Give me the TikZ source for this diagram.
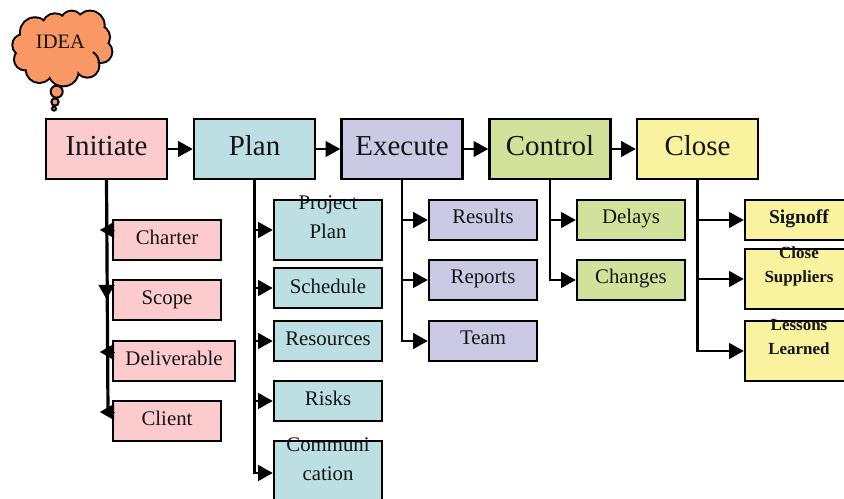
\documentclass[tikz,border=0pt]{standalone}
\usepackage{fontspec}
\setmainfont{Liberation Serif}
\usetikzlibrary{arrows.meta}
\definecolor{cpink}{HTML}{FBCBCE}
\definecolor{cteal}{HTML}{BBDFE3}
\definecolor{cpurple}{HTML}{CCC9E5}
\definecolor{cgreen}{HTML}{D2E29B}
\definecolor{cyellow}{HTML}{F9F29E}
\definecolor{corange}{HTML}{F99865}
\tikzset{
  bx/.style={draw=black,line width=1.7pt,inner sep=0pt,align=center,text=black!92,text depth=0pt},
  bw/.style={minimum width=#1*0.75pt},
  bh/.style={minimum height=#1*0.75pt},
  tb/.style={text height=#1pt},
  mainbox/.style={bx,bw=121,bh=60,tb=9.8,font=\fontsize{21.7}{26}\selectfont},
  subbox/.style={bx,bw=108,bh=40,tb=7.5,font=\fontsize{15.6}{21.5}\selectfont},
  closebox/.style={bx,bw=108,bh=60,tb=6,font=\bfseries\fontsize{12.75}{18}\selectfont},
  conn/.style={line width=2.2pt,-{Triangle[length=11pt,width=11.5pt]}},
  flow/.style={line width=2pt,-{Triangle[length=11pt,width=11.5pt]}},
  tiponly/.style={line width=0.1pt,-{Triangle[length=10.5pt,width=12pt]}},
  puff/.style={line width=3pt,draw=black},
  puffin/.style={fill=corange},
}
\begin{document}
\begin{tikzpicture}[x=0.75pt,y=-0.75pt]
\path[use as bounding box,clip] (0,0) rectangle (844,499);
% idea cloud (coordinates read at 3x)
\begin{scope}[x=0.25pt,y=-0.25pt]
  \def\lobes{(105,97) circle (42) (165,78) circle (35) (215,66) circle (31) (270,76) circle (41)
    (293,112) circle (34) (303,155) circle (31) (262,197) circle (33) (190,213) circle (43)
    (118,208) circle (38) (75,178) circle (30) (70,135) circle (30)}
  \draw[puff] \lobes;
  \fill[puffin] \lobes;
  \fill[puffin] (185,140) ellipse (125 and 75);
  \draw[line width=1.5pt,line cap=round] (280,157) .. controls (292,165) and (297,178) .. (297,190);
  \draw[line width=1.5pt,fill=corange] (170,275) circle (18);
  \draw[line width=1.5pt,fill=corange] (165,306) circle (11);
  \draw[line width=1.5pt,fill=corange] (162,326) circle (6);
\end{scope}
\node[inner sep=0pt,font=\fontsize{15.4}{18}\selectfont,text=black!92] (idea) at (60.5,42) {IDEA};
% main boxes
\node[mainbox,fill=cpink] (init) at (106.5,149) {Initiate};
\node[mainbox,fill=cteal] (plan) at (254.5,149) {Plan};
\node[mainbox,fill=cpurple] (exec) at (402,149) {Execute};
\node[mainbox,fill=cgreen] (ctrl) at (550,149) {Control};
\node[mainbox,fill=cyellow] (close) at (697.5,149) {Close};
% initiate subs
\node[subbox,fill=cpink] (charter) at (167,240) {Charter};
\node[subbox,fill=cpink] (scope) at (167,300) {Scope};
\node[subbox,fill=cpink,bw=122] (deliv) at (174,361) {Deliverable};
\node[subbox,fill=cpink] (client) at (167,421) {Client};
% plan subs
\node[subbox,fill=cteal,bh=60,tb=12.5] (pplan) at (328,230) {Project\\Plan};
\node[subbox,fill=cteal,tb=8.5] (sched) at (328,288) {Schedule};
\node[subbox,fill=cteal] (res) at (328,341) {Resources};
\node[subbox,fill=cteal] (risks) at (328,401) {Risks};
\node[subbox,fill=cteal,bh=64,tb=11] (comm) at (328,473) {Communi\\cation};
% execute subs
\node[subbox,fill=cpurple,tb=6] (results) at (483,220) {Results};
\node[subbox,fill=cpurple,tb=6] (reports) at (483,280) {Reports};
\node[subbox,fill=cpurple,tb=6] (team) at (483,341) {Team};
% control subs
\node[subbox,fill=cgreen,tb=6] (delays) at (631,220) {Delays};
\node[subbox,fill=cgreen,tb=6] (changes) at (631,280) {Changes};
% close subs
\node[closebox,fill=cyellow,bh=40,font=\bfseries\fontsize{14.7}{18}\selectfont] (sign) at (799,220) {Signoff};
\node[closebox,fill=cyellow] (supp) at (799,279) {Close\\Suppliers};
\node[closebox,fill=cyellow] (less) at (799,351) {Lessons\\Learned};
% main flow
\draw[flow] (init) -- (plan);
\draw[flow] (plan) -- (exec);
\draw[flow] (exec) -- (ctrl);
\draw[flow] (ctrl) -- (close);
% branches
\foreach \t in {pplan,sched,res,risks,comm} \draw[conn] (plan.south) |- (\t.west);
\foreach \t in {results,reports,team} \draw[conn] (exec.south) |- (\t.west);
\foreach \t in {delays,changes} \draw[conn] (ctrl.south) |- (\t.west);
\foreach \t in {sign,supp,less} \draw[conn] (close.south) |- (\t.west);
% initiate: reversed heads
\coordinate (iend) at (108,412);
\coordinate (sbase) at (106.5,284);
\coordinate (stip) at (106.5,299);
\coordinate (c1) at (114,230);\coordinate (c1t) at (100,230);
\coordinate (c3) at (114,352);\coordinate (c3t) at (100,352);
\coordinate (c4) at (114,412);\coordinate (c4t) at (100,412);
\draw[line width=2.4pt] (init.south) -- (iend);
\draw[tiponly] (c1) -- (c1t);
\draw[tiponly] (sbase) -- (stip);
\draw[tiponly] (c3) -- (c3t);
\draw[tiponly] (c4) -- (c4t);
\end{tikzpicture}
\end{document}
